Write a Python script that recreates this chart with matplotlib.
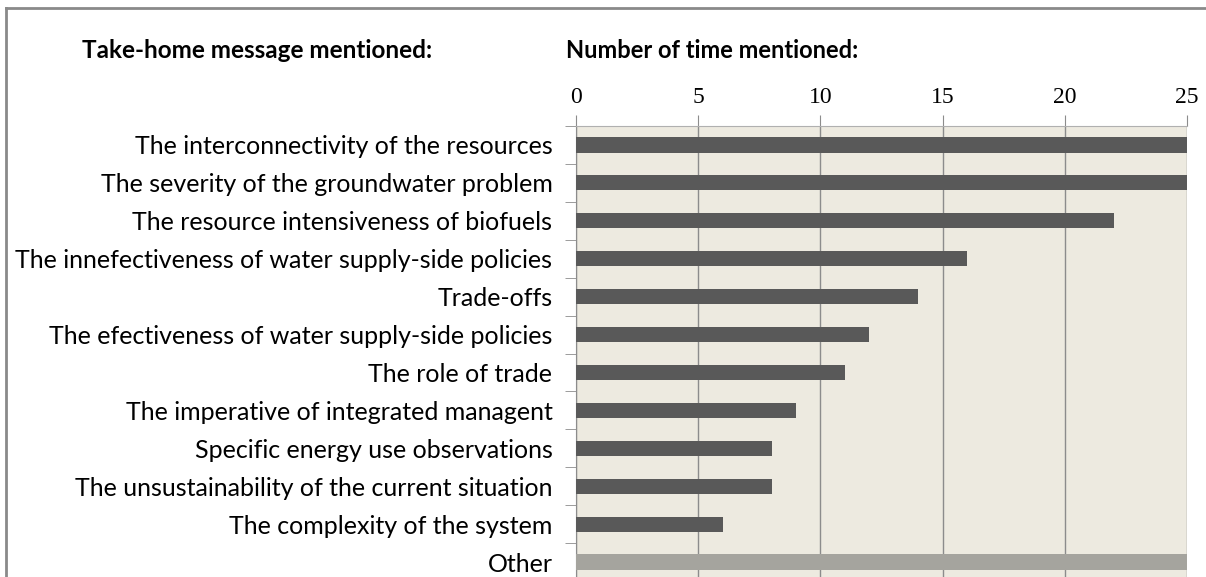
import matplotlib.pyplot as plt
import numpy as np
from matplotlib.lines import Line2D

etiketler = [
    "The interconnectivity of the resources",
    "The severity of the groundwater problem",
    "The resource intensiveness of biofuels",
    "The innefectiveness of water supply-side policies",
    "Trade-offs",
    "The efectiveness of water supply-side policies",
    "The role of trade",
    "The imperative of integrated managent",
    "Specific energy use observations",
    "The unsustainability of the current situation",
    "The complexity of the system",
    "Other",
]
degerler = [25, 25, 22, 16, 14, 12, 11, 9, 8, 8, 6, 25]
renkler = ["#595959"] * 11 + ["#a5a49e"]
eksen_ticks = [0, 5, 10, 15, 20, 25]

fig = plt.figure(figsize=(12.06, 5.77), dpi=100)
ax = fig.add_axes([576 / 1206, -4 / 577, 611 / 1206, 455 / 577])

y = np.arange(len(etiketler))
ax.barh(y, degerler, height=0.4, color=renkler, zorder=3)

ax.set_facecolor("#edeae0")
ax.set_xlim(0, 25)
ax.set_ylim(len(etiketler) - 0.5, -0.5)
ax.xaxis.tick_top()
ax.set_xticks(eksen_ticks)
ax.set_xticklabels([str(t) for t in eksen_ticks], family="Liberation Serif", fontsize=17)
ax.tick_params(axis="x", length=8, color="#8c8c8c", pad=5)
ax.grid(axis="x", color="#8c8c8c", linewidth=1, zorder=1)

ax.set_yticks(y)
ax.set_yticklabels(etiketler, family="Lato", fontsize=18)
ax.tick_params(axis="y", length=0, pad=17)
ax.set_yticks(np.arange(len(etiketler) + 1) - 0.5, minor=True)
ax.tick_params(axis="y", which="minor", length=8, color="#8c8c8c")

for s in ["right", "bottom"]:
    ax.spines[s].set_visible(False)
ax.spines["top"].set_color("#b0b0b0")
ax.spines["left"].set_color("#8c8c8c")

fig.text(82 / 1206, 1 - 51 / 577, "Take-home message mentioned:", family="Lato",
         fontweight="bold", fontsize=17.5, va="center")
fig.text(566 / 1206, 1 - 51 / 577, "Number of time mentioned:", family="Lato",
         fontweight="bold", fontsize=17, va="center")

# cerceve
fig.add_artist(Line2D([6 / 1206, 6 / 1206], [0, 1 - 8 / 577], transform=fig.transFigure,
                      color="#8a8a8a", linewidth=2))
fig.add_artist(Line2D([6 / 1206, 1], [1 - 8 / 577, 1 - 8 / 577], transform=fig.transFigure,
                      color="#8a8a8a", linewidth=2))

fig.savefig("out.png", dpi=100)
